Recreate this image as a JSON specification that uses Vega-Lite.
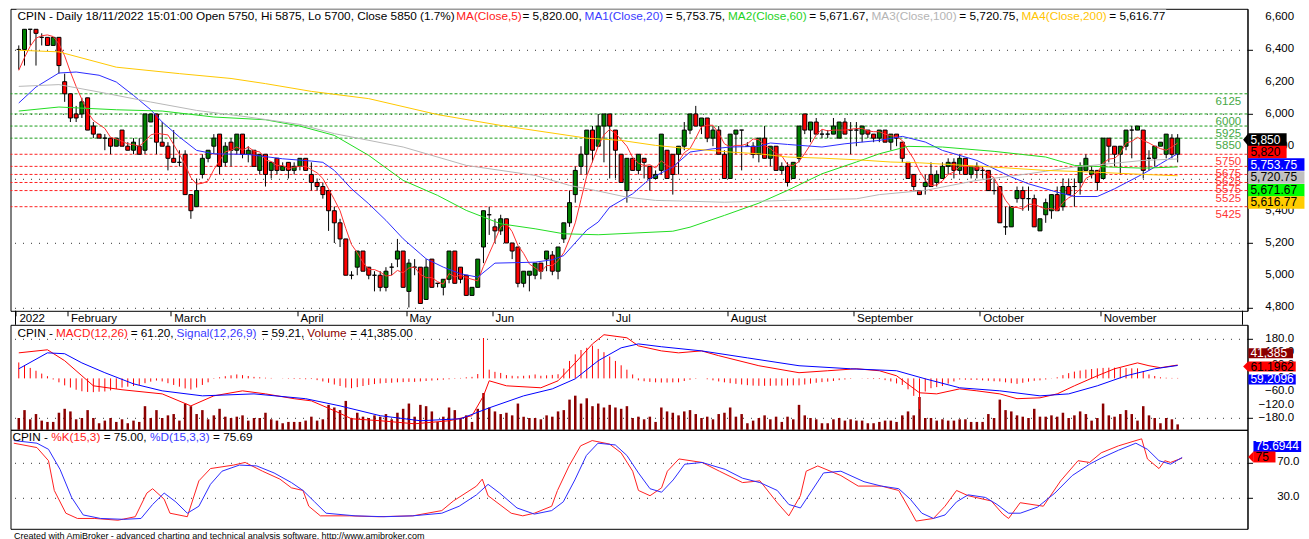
{
"$schema": "https://vega.github.io/schema/vega-lite/v6.json",
"background": "white",
"padding": {"left": 9.5, "top": 7.8, "right": 0, "bottom": 0},
"config": {
  "font": "Liberation Sans",
  "view": {"stroke": "#000", "strokeWidth": 1},
  "axis": {"labelFont": "Liberation Sans", "labelColor": "#000", "labelFontSize": 11.5, "domainColor": "#000", "tickColor": "#000", "titleFont": "Liberation Sans", "labelOverlap": false, "labelFlush": false}
},
"datasets": {
"candles": [
{"d":"2022-01-19","i":1,"o":6400,"h":6425,"l":6275,"c":6400,"ma5":6270,"v":90000,"hist":73},
{"d":"2022-01-20","i":2,"o":6400,"h":6525,"l":6300,"c":6525,"ma5":6350,"v":150000,"hist":60},
{"d":"2022-01-21","i":3,"o":6525,"h":6525,"l":6425,"c":6525,"ma5":6420,"v":80000,"hist":48},
{"d":"2022-01-24","i":4,"o":6525,"h":6525,"l":6300,"c":6500,"ma5":6470,"v":120000,"hist":35},
{"d":"2022-01-25","i":5,"o":6475,"h":6500,"l":6425,"c":6475,"ma5":6485,"v":70000,"hist":22},
{"d":"2022-01-26","i":6,"o":6475,"h":6475,"l":6425,"c":6425,"ma5":6490,"v":60000,"hist":10},
{"d":"2022-01-27","i":7,"o":6425,"h":6475,"l":6425,"c":6475,"ma5":6480,"v":60000,"hist":-5},
{"d":"2022-01-28","i":8,"o":6475,"h":6475,"l":6250,"c":6300,"ma5":6435,"v":130000,"hist":-18},
{"d":"2022-01-31","i":9,"o":6200,"h":6250,"l":6075,"c":6125,"ma5":6360,"v":160000,"hist":-32},
{"d":"2022-02-02","i":10,"o":6125,"h":6125,"l":5950,"c":5975,"ma5":6260,"v":140000,"hist":-42},
{"d":"2022-02-03","i":11,"o":6000,"h":6050,"l":5950,"c":5975,"ma5":6170,"v":80000,"hist":-52},
{"d":"2022-02-04","i":12,"o":6000,"h":6100,"l":5975,"c":6075,"ma5":6090,"v":90000,"hist":-59},
{"d":"2022-02-07","i":13,"o":6100,"h":6100,"l":5900,"c":5900,"ma5":6010,"v":150000,"hist":-62},
{"d":"2022-02-08","i":14,"o":5925,"h":5950,"l":5850,"c":5875,"ma5":5960,"v":90000,"hist":-63},
{"d":"2022-02-09","i":15,"o":5875,"h":5875,"l":5850,"c":5850,"ma5":5935,"v":50000,"hist":-61},
{"d":"2022-02-10","i":16,"o":5850,"h":5875,"l":5775,"c":5850,"ma5":5910,"v":70000,"hist":-60},
{"d":"2022-02-11","i":17,"o":5850,"h":5850,"l":5750,"c":5800,"ma5":5855,"v":90000,"hist":-55},
{"d":"2022-02-14","i":18,"o":5800,"h":5850,"l":5800,"c":5850,"ma5":5845,"v":60000,"hist":-48},
{"d":"2022-02-15","i":19,"o":5900,"h":5900,"l":5800,"c":5800,"ma5":5830,"v":80000,"hist":-42},
{"d":"2022-02-16","i":20,"o":5800,"h":5825,"l":5775,"c":5775,"ma5":5815,"v":50000,"hist":-38},
{"d":"2022-02-17","i":21,"o":5775,"h":5850,"l":5750,"c":5825,"ma5":5810,"v":70000,"hist":-35},
{"d":"2022-02-18","i":22,"o":5800,"h":5850,"l":5750,"c":5750,"ma5":5800,"v":60000,"hist":-30},
{"d":"2022-02-21","i":23,"o":5775,"h":6000,"l":5750,"c":6000,"ma5":5830,"v":180000,"hist":-22},
{"d":"2022-02-22","i":24,"o":5950,"h":6000,"l":5950,"c":6000,"ma5":5870,"v":90000,"hist":-15},
{"d":"2022-02-23","i":25,"o":6000,"h":6000,"l":5750,"c":5825,"ma5":5880,"v":150000,"hist":-10},
{"d":"2022-02-24","i":26,"o":5825,"h":5950,"l":5800,"c":5800,"ma5":5875,"v":90000,"hist":-14},
{"d":"2022-02-25","i":27,"o":5800,"h":5825,"l":5650,"c":5725,"ma5":5870,"v":110000,"hist":-22},
{"d":"2022-03-01","i":28,"o":5725,"h":5900,"l":5700,"c":5700,"ma5":5810,"v":120000,"hist":-30},
{"d":"2022-03-02","i":29,"o":5700,"h":5775,"l":5675,"c":5700,"ma5":5750,"v":70000,"hist":-38},
{"d":"2022-03-04","i":30,"o":5750,"h":5775,"l":5500,"c":5500,"ma5":5685,"v":200000,"hist":-46},
{"d":"2022-03-07","i":31,"o":5500,"h":5500,"l":5350,"c":5400,"ma5":5605,"v":180000,"hist":-51},
{"d":"2022-03-08","i":32,"o":5425,"h":5600,"l":5425,"c":5525,"ma5":5565,"v":120000,"hist":-42},
{"d":"2022-03-09","i":33,"o":5625,"h":5750,"l":5600,"c":5725,"ma5":5570,"v":150000,"hist":-30},
{"d":"2022-03-10","i":34,"o":5725,"h":5775,"l":5700,"c":5775,"ma5":5585,"v":80000,"hist":-18},
{"d":"2022-03-11","i":35,"o":5800,"h":5875,"l":5750,"c":5850,"ma5":5655,"v":110000,"hist":-2},
{"d":"2022-03-14","i":36,"o":5875,"h":5875,"l":5625,"c":5675,"ma5":5710,"v":160000,"hist":5},
{"d":"2022-03-15","i":37,"o":5700,"h":5825,"l":5675,"c":5800,"ma5":5765,"v":100000,"hist":10},
{"d":"2022-03-16","i":38,"o":5825,"h":5850,"l":5675,"c":5775,"ma5":5775,"v":90000,"hist":14},
{"d":"2022-03-17","i":39,"o":5775,"h":5875,"l":5750,"c":5875,"ma5":5795,"v":100000,"hist":18},
{"d":"2022-03-18","i":40,"o":5875,"h":5875,"l":5725,"c":5750,"ma5":5775,"v":110000,"hist":15},
{"d":"2022-03-21","i":41,"o":5750,"h":5800,"l":5700,"c":5775,"ma5":5795,"v":70000,"hist":11},
{"d":"2022-03-22","i":42,"o":5775,"h":5775,"l":5675,"c":5675,"ma5":5770,"v":90000,"hist":7},
{"d":"2022-03-23","i":43,"o":5650,"h":5750,"l":5625,"c":5750,"ma5":5765,"v":90000,"hist":5},
{"d":"2022-03-24","i":44,"o":5750,"h":5750,"l":5550,"c":5625,"ma5":5715,"v":130000,"hist":3},
{"d":"2022-03-25","i":45,"o":5650,"h":5700,"l":5600,"c":5700,"ma5":5705,"v":80000,"hist":2},
{"d":"2022-03-28","i":46,"o":5725,"h":5725,"l":5625,"c":5650,"ma5":5680,"v":70000,"hist":0},
{"d":"2022-03-29","i":47,"o":5650,"h":5700,"l":5650,"c":5675,"ma5":5680,"v":50000,"hist":-1},
{"d":"2022-03-30","i":48,"o":5700,"h":5700,"l":5600,"c":5650,"ma5":5660,"v":60000,"hist":-2},
{"d":"2022-03-31","i":49,"o":5650,"h":5700,"l":5625,"c":5675,"ma5":5670,"v":60000,"hist":-3},
{"d":"2022-04-01","i":50,"o":5675,"h":5725,"l":5650,"c":5725,"ma5":5675,"v":60000,"hist":-3},
{"d":"2022-04-04","i":51,"o":5725,"h":5725,"l":5650,"c":5650,"ma5":5675,"v":70000,"hist":-4},
{"d":"2022-04-05","i":52,"o":5625,"h":5700,"l":5525,"c":5575,"ma5":5655,"v":100000,"hist":-3},
{"d":"2022-04-06","i":53,"o":5575,"h":5600,"l":5525,"c":5550,"ma5":5635,"v":70000,"hist":-8},
{"d":"2022-04-07","i":54,"o":5550,"h":5575,"l":5475,"c":5500,"ma5":5600,"v":80000,"hist":-14},
{"d":"2022-04-08","i":55,"o":5525,"h":5525,"l":5275,"c":5400,"ma5":5535,"v":190000,"hist":-20},
{"d":"2022-04-11","i":56,"o":5400,"h":5425,"l":5200,"c":5325,"ma5":5470,"v":170000,"hist":-28},
{"d":"2022-04-12","i":57,"o":5325,"h":5350,"l":5175,"c":5225,"ma5":5400,"v":150000,"hist":-35},
{"d":"2022-04-13","i":58,"o":5225,"h":5225,"l":5000,"c":5000,"ma5":5290,"v":220000,"hist":-42},
{"d":"2022-04-14","i":59,"o":5000,"h":5025,"l":4975,"c":5000,"ma5":5190,"v":90000,"hist":-45},
{"d":"2022-04-18","i":60,"o":5050,"h":5150,"l":5000,"c":5150,"ma5":5140,"v":130000,"hist":-40},
{"d":"2022-04-19","i":61,"o":5150,"h":5150,"l":5025,"c":5025,"ma5":5080,"v":100000,"hist":-35},
{"d":"2022-04-20","i":62,"o":5050,"h":5050,"l":4975,"c":5000,"ma5":5035,"v":90000,"hist":-30},
{"d":"2022-04-21","i":63,"o":5000,"h":5025,"l":4900,"c":5000,"ma5":5035,"v":110000,"hist":-26},
{"d":"2022-04-22","i":64,"o":5000,"h":5025,"l":4900,"c":4925,"ma5":5020,"v":100000,"hist":-23},
{"d":"2022-04-25","i":65,"o":4925,"h":5050,"l":4900,"c":5025,"ma5":4995,"v":120000,"hist":-21},
{"d":"2022-04-26","i":66,"o":5050,"h":5075,"l":5000,"c":5050,"ma5":5000,"v":80000,"hist":-20},
{"d":"2022-04-27","i":67,"o":5100,"h":5225,"l":5050,"c":5150,"ma5":5030,"v":130000,"hist":-18},
{"d":"2022-04-28","i":68,"o":5150,"h":5150,"l":4925,"c":4925,"ma5":5015,"v":160000,"hist":-17},
{"d":"2022-05-09","i":69,"o":4900,"h":5100,"l":4800,"c":5075,"ma5":5045,"v":200000,"hist":-16},
{"d":"2022-05-10","i":70,"o":5050,"h":5100,"l":5000,"c":5050,"ma5":5050,"v":100000,"hist":-16},
{"d":"2022-05-11","i":71,"o":5050,"h":5050,"l":4825,"c":4825,"ma5":5005,"v":190000,"hist":-14},
{"d":"2022-05-12","i":72,"o":4850,"h":5100,"l":4850,"c":5050,"ma5":4985,"v":180000,"hist":-12},
{"d":"2022-05-13","i":73,"o":5100,"h":5100,"l":4925,"c":4925,"ma5":4985,"v":140000,"hist":-10},
{"d":"2022-05-17","i":74,"o":4950,"h":4950,"l":4925,"c":4950,"ma5":4960,"v":60000,"hist":-8},
{"d":"2022-05-18","i":75,"o":4925,"h":4975,"l":4875,"c":4975,"ma5":4945,"v":100000,"hist":-6},
{"d":"2022-05-19","i":76,"o":4975,"h":5150,"l":4950,"c":5150,"ma5":5010,"v":170000,"hist":-4},
{"d":"2022-05-20","i":77,"o":5150,"h":5150,"l":4950,"c":4950,"ma5":4990,"v":150000,"hist":-2},
{"d":"2022-05-23","i":78,"o":5050,"h":5050,"l":4950,"c":4975,"ma5":5000,"v":90000,"hist":2},
{"d":"2022-05-24","i":79,"o":5000,"h":5000,"l":4875,"c":4875,"ma5":4985,"v":110000,"hist":5},
{"d":"2022-05-25","i":80,"o":4875,"h":4925,"l":4875,"c":4925,"ma5":4975,"v":60000,"hist":7},
{"d":"2022-05-27","i":81,"o":4925,"h":5100,"l":4925,"c":5100,"ma5":4965,"v":160000,"hist":20},
{"d":"2022-05-30","i":82,"o":5175,"h":5400,"l":5075,"c":5400,"ma5":5055,"v":280000,"hist":185},
{"d":"2022-05-31","i":83,"o":5375,"h":5425,"l":5250,"c":5375,"ma5":5135,"v":170000,"hist":40},
{"d":"2022-06-02","i":84,"o":5300,"h":5350,"l":5200,"c":5275,"ma5":5215,"v":140000,"hist":30},
{"d":"2022-06-03","i":85,"o":5275,"h":5375,"l":5250,"c":5350,"ma5":5300,"v":120000,"hist":25},
{"d":"2022-06-06","i":86,"o":5350,"h":5350,"l":5200,"c":5200,"ma5":5320,"v":130000,"hist":15},
{"d":"2022-06-07","i":87,"o":5200,"h":5200,"l":5100,"c":5150,"ma5":5270,"v":110000,"hist":12},
{"d":"2022-06-08","i":88,"o":5175,"h":5175,"l":4925,"c":4950,"ma5":5185,"v":200000,"hist":10},
{"d":"2022-06-09","i":89,"o":4950,"h":5025,"l":4925,"c":5025,"ma5":5135,"v":100000,"hist":12},
{"d":"2022-06-10","i":90,"o":5000,"h":5025,"l":4900,"c":5025,"ma5":5070,"v":90000,"hist":14},
{"d":"2022-06-13","i":91,"o":5000,"h":5075,"l":4975,"c":5075,"ma5":5045,"v":90000,"hist":18},
{"d":"2022-06-14","i":92,"o":5075,"h":5075,"l":4975,"c":5025,"ma5":5020,"v":80000,"hist":12},
{"d":"2022-06-15","i":93,"o":5100,"h":5150,"l":5025,"c":5150,"ma5":5060,"v":110000,"hist":14},
{"d":"2022-06-16","i":94,"o":5125,"h":5150,"l":5000,"c":5025,"ma5":5060,"v":100000,"hist":16},
{"d":"2022-06-17","i":95,"o":5025,"h":5175,"l":4975,"c":5175,"ma5":5090,"v":140000,"hist":19},
{"d":"2022-06-20","i":96,"o":5225,"h":5325,"l":5200,"c":5325,"ma5":5140,"v":150000,"hist":45},
{"d":"2022-06-21","i":97,"o":5325,"h":5525,"l":5300,"c":5450,"ma5":5225,"v":230000,"hist":80},
{"d":"2022-06-22","i":98,"o":5500,"h":5675,"l":5450,"c":5650,"ma5":5325,"v":260000,"hist":110},
{"d":"2022-06-23","i":99,"o":5675,"h":5800,"l":5625,"c":5750,"ma5":5470,"v":200000,"hist":130},
{"d":"2022-06-24","i":100,"o":5750,"h":5900,"l":5625,"c":5900,"ma5":5615,"v":240000,"hist":140},
{"d":"2022-06-27","i":101,"o":5900,"h":5925,"l":5700,"c":5775,"ma5":5705,"v":180000,"hist":150},
{"d":"2022-06-28","i":102,"o":5800,"h":6000,"l":5800,"c":5925,"ma5":5800,"v":200000,"hist":135},
{"d":"2022-06-29","i":103,"o":5925,"h":6000,"l":5700,"c":6000,"ma5":5870,"v":170000,"hist":120},
{"d":"2022-06-30","i":104,"o":6000,"h":6000,"l":5600,"c":5925,"ma5":5905,"v":190000,"hist":100},
{"d":"2022-07-01","i":105,"o":5900,"h":5900,"l":5600,"c":5775,"ma5":5880,"v":170000,"hist":80},
{"d":"2022-07-04","i":106,"o":5750,"h":5750,"l":5575,"c":5575,"ma5":5840,"v":160000,"hist":60},
{"d":"2022-07-05","i":107,"o":5525,"h":5725,"l":5450,"c":5725,"ma5":5800,"v":180000,"hist":40},
{"d":"2022-07-06","i":108,"o":5725,"h":5725,"l":5650,"c":5650,"ma5":5730,"v":90000,"hist":18},
{"d":"2022-07-07","i":109,"o":5650,"h":5750,"l":5625,"c":5750,"ma5":5695,"v":100000,"hist":-9},
{"d":"2022-07-08","i":110,"o":5725,"h":5725,"l":5600,"c":5700,"ma5":5680,"v":80000,"hist":-13},
{"d":"2022-07-12","i":111,"o":5675,"h":5675,"l":5525,"c":5600,"ma5":5685,"v":100000,"hist":-16},
{"d":"2022-07-13","i":112,"o":5600,"h":5650,"l":5600,"c":5625,"ma5":5665,"v":60000,"hist":-18},
{"d":"2022-07-14","i":113,"o":5650,"h":5875,"l":5625,"c":5875,"ma5":5710,"v":170000,"hist":-19},
{"d":"2022-07-15","i":114,"o":5775,"h":5775,"l":5600,"c":5600,"ma5":5680,"v":140000,"hist":-19},
{"d":"2022-07-18","i":115,"o":5750,"h":5750,"l":5500,"c":5625,"ma5":5665,"v":130000,"hist":-18},
{"d":"2022-07-19","i":116,"o":5750,"h":5800,"l":5625,"c":5800,"ma5":5705,"v":110000,"hist":-18},
{"d":"2022-07-20","i":117,"o":5800,"h":5950,"l":5775,"c":5900,"ma5":5760,"v":140000,"hist":-12},
{"d":"2022-07-21","i":118,"o":5900,"h":6000,"l":5875,"c":6000,"ma5":5785,"v":150000,"hist":-6},
{"d":"2022-07-22","i":119,"o":6000,"h":6050,"l":5925,"c":5925,"ma5":5850,"v":120000,"hist":-2},
{"d":"2022-07-25","i":120,"o":5925,"h":5975,"l":5875,"c":5975,"ma5":5920,"v":90000,"hist":0},
{"d":"2022-07-26","i":121,"o":5975,"h":5975,"l":5825,"c":5850,"ma5":5930,"v":100000,"hist":-4},
{"d":"2022-07-27","i":122,"o":5850,"h":5925,"l":5800,"c":5900,"ma5":5930,"v":80000,"hist":-9},
{"d":"2022-07-28","i":123,"o":5900,"h":5925,"l":5750,"c":5750,"ma5":5880,"v":120000,"hist":-14},
{"d":"2022-07-29","i":124,"o":5750,"h":5775,"l":5600,"c":5600,"ma5":5815,"v":130000,"hist":-18},
{"d":"2022-08-01","i":125,"o":5600,"h":5875,"l":5600,"c":5875,"ma5":5795,"v":170000,"hist":-22},
{"d":"2022-08-02","i":126,"o":5875,"h":5900,"l":5750,"c":5900,"ma5":5805,"v":100000,"hist":-25},
{"d":"2022-08-03","i":127,"o":5900,"h":5900,"l":5650,"c":5900,"ma5":5805,"v":120000,"hist":-28},
{"d":"2022-08-04","i":128,"o":5800,"h":5825,"l":5800,"c":5800,"ma5":5815,"v":50000,"hist":-31},
{"d":"2022-08-05","i":129,"o":5800,"h":5825,"l":5725,"c":5750,"ma5":5845,"v":70000,"hist":-33},
{"d":"2022-08-08","i":130,"o":5750,"h":5850,"l":5700,"c":5850,"ma5":5840,"v":90000,"hist":-34},
{"d":"2022-08-09","i":131,"o":5850,"h":5925,"l":5725,"c":5725,"ma5":5805,"v":110000,"hist":-34},
{"d":"2022-08-10","i":132,"o":5725,"h":5800,"l":5675,"c":5800,"ma5":5785,"v":80000,"hist":-34},
{"d":"2022-08-11","i":133,"o":5800,"h":5800,"l":5650,"c":5650,"ma5":5755,"v":100000,"hist":-33},
{"d":"2022-08-12","i":134,"o":5650,"h":5700,"l":5625,"c":5675,"ma5":5740,"v":60000,"hist":-33},
{"d":"2022-08-15","i":135,"o":5675,"h":5700,"l":5550,"c":5575,"ma5":5685,"v":100000,"hist":-33},
{"d":"2022-08-16","i":136,"o":5600,"h":5700,"l":5600,"c":5700,"ma5":5680,"v":80000,"hist":-32},
{"d":"2022-08-18","i":137,"o":5725,"h":5925,"l":5700,"c":5925,"ma5":5705,"v":190000,"hist":-32},
{"d":"2022-08-19","i":138,"o":6000,"h":6000,"l":5875,"c":5900,"ma5":5755,"v":110000,"hist":-28},
{"d":"2022-08-22","i":139,"o":5900,"h":5950,"l":5825,"c":5950,"ma5":5810,"v":90000,"hist":-24},
{"d":"2022-08-23","i":140,"o":5950,"h":5975,"l":5875,"c":5875,"ma5":5870,"v":80000,"hist":-20},
{"d":"2022-08-24","i":141,"o":5875,"h":5900,"l":5850,"c":5875,"ma5":5905,"v":50000,"hist":-17},
{"d":"2022-08-25","i":142,"o":5875,"h":5900,"l":5850,"c":5875,"ma5":5895,"v":50000,"hist":-15},
{"d":"2022-08-26","i":143,"o":5875,"h":5975,"l":5875,"c":5925,"ma5":5900,"v":80000,"hist":-12},
{"d":"2022-08-29","i":144,"o":5850,"h":5950,"l":5850,"c":5950,"ma5":5900,"v":90000,"hist":-8},
{"d":"2022-08-30","i":145,"o":5950,"h":5975,"l":5875,"c":5875,"ma5":5900,"v":70000,"hist":-5},
{"d":"2022-08-31","i":146,"o":5900,"h":5950,"l":5750,"c":5900,"ma5":5905,"v":80000,"hist":-2},
{"d":"2022-09-01","i":147,"o":5900,"h":5950,"l":5800,"c":5900,"ma5":5910,"v":70000,"hist":0},
{"d":"2022-09-02","i":148,"o":5875,"h":5925,"l":5825,"c":5925,"ma5":5910,"v":70000,"hist":-1},
{"d":"2022-09-05","i":149,"o":5900,"h":5900,"l":5850,"c":5875,"ma5":5895,"v":50000,"hist":-2},
{"d":"2022-09-06","i":150,"o":5875,"h":5875,"l":5825,"c":5850,"ma5":5890,"v":50000,"hist":-3},
{"d":"2022-09-07","i":151,"o":5850,"h":5900,"l":5825,"c":5900,"ma5":5890,"v":60000,"hist":-3},
{"d":"2022-09-08","i":152,"o":5900,"h":5900,"l":5825,"c":5825,"ma5":5875,"v":70000,"hist":-8},
{"d":"2022-09-09","i":153,"o":5825,"h":5875,"l":5775,"c":5875,"ma5":5865,"v":70000,"hist":-14},
{"d":"2022-09-12","i":154,"o":5875,"h":5875,"l":5800,"c":5850,"ma5":5860,"v":60000,"hist":-23},
{"d":"2022-09-13","i":155,"o":5825,"h":5825,"l":5700,"c":5725,"ma5":5835,"v":110000,"hist":-30},
{"d":"2022-09-14","i":156,"o":5700,"h":5700,"l":5600,"c":5600,"ma5":5775,"v":140000,"hist":-50},
{"d":"2022-09-15","i":157,"o":5625,"h":5625,"l":5525,"c":5550,"ma5":5720,"v":110000,"hist":-80},
{"d":"2022-09-16","i":158,"o":5525,"h":5525,"l":5500,"c":5500,"ma5":5645,"v":250000,"hist":-140},
{"d":"2022-09-19","i":159,"o":5550,"h":5625,"l":5500,"c":5575,"ma5":5590,"v":90000,"hist":-60},
{"d":"2022-09-20","i":160,"o":5625,"h":5700,"l":5550,"c":5550,"ma5":5555,"v":90000,"hist":-45},
{"d":"2022-09-21","i":161,"o":5575,"h":5650,"l":5550,"c":5625,"ma5":5560,"v":70000,"hist":-40},
{"d":"2022-09-22","i":162,"o":5600,"h":5700,"l":5600,"c":5675,"ma5":5585,"v":80000,"hist":-35},
{"d":"2022-09-23","i":163,"o":5675,"h":5725,"l":5625,"c":5700,"ma5":5625,"v":70000,"hist":-24},
{"d":"2022-09-26","i":164,"o":5700,"h":5725,"l":5600,"c":5650,"ma5":5640,"v":70000,"hist":-14},
{"d":"2022-09-27","i":165,"o":5650,"h":5750,"l":5625,"c":5725,"ma5":5675,"v":80000,"hist":-5},
{"d":"2022-09-28","i":166,"o":5725,"h":5725,"l":5625,"c":5625,"ma5":5675,"v":80000,"hist":-6},
{"d":"2022-09-29","i":167,"o":5625,"h":5675,"l":5600,"c":5675,"ma5":5675,"v":60000,"hist":-7},
{"d":"2022-09-30","i":168,"o":5675,"h":5700,"l":5600,"c":5650,"ma5":5665,"v":60000,"hist":-7},
{"d":"2022-10-03","i":169,"o":5650,"h":5675,"l":5600,"c":5650,"ma5":5665,"v":60000,"hist":-9},
{"d":"2022-10-04","i":170,"o":5650,"h":5650,"l":5525,"c":5525,"ma5":5625,"v":120000,"hist":-11},
{"d":"2022-10-05","i":171,"o":5525,"h":5600,"l":5500,"c":5525,"ma5":5605,"v":90000,"hist":-13},
{"d":"2022-10-06","i":172,"o":5550,"h":5550,"l":5325,"c":5325,"ma5":5535,"v":230000,"hist":-14},
{"d":"2022-10-07","i":173,"o":5300,"h":5425,"l":5250,"c":5300,"ma5":5465,"v":150000,"hist":-18},
{"d":"2022-10-10","i":174,"o":5300,"h":5425,"l":5300,"c":5425,"ma5":5420,"v":140000,"hist":-22},
{"d":"2022-10-11","i":175,"o":5475,"h":5550,"l":5450,"c":5525,"ma5":5420,"v":110000,"hist":-25},
{"d":"2022-10-12","i":176,"o":5525,"h":5550,"l":5400,"c":5475,"ma5":5410,"v":100000,"hist":-20},
{"d":"2022-10-13","i":177,"o":5475,"h":5550,"l":5400,"c":5475,"ma5":5440,"v":90000,"hist":-15},
{"d":"2022-10-14","i":178,"o":5475,"h":5500,"l":5300,"c":5300,"ma5":5440,"v":160000,"hist":-11},
{"d":"2022-10-17","i":179,"o":5275,"h":5350,"l":5275,"c":5350,"ma5":5425,"v":100000,"hist":-9},
{"d":"2022-10-18","i":180,"o":5375,"h":5475,"l":5325,"c":5450,"ma5":5410,"v":100000,"hist":-5},
{"d":"2022-10-19","i":181,"o":5400,"h":5500,"l":5350,"c":5500,"ma5":5415,"v":110000,"hist":-1},
{"d":"2022-10-20","i":182,"o":5500,"h":5550,"l":5400,"c":5400,"ma5":5400,"v":100000,"hist":5},
{"d":"2022-10-21","i":183,"o":5425,"h":5600,"l":5400,"c":5550,"ma5":5450,"v":130000,"hist":15},
{"d":"2022-10-24","i":184,"o":5550,"h":5600,"l":5500,"c":5500,"ma5":5480,"v":90000,"hist":24},
{"d":"2022-10-25","i":185,"o":5550,"h":5600,"l":5425,"c":5550,"ma5":5500,"v":110000,"hist":31},
{"d":"2022-10-26","i":186,"o":5575,"h":5700,"l":5500,"c":5675,"ma5":5535,"v":140000,"hist":36},
{"d":"2022-10-27","i":187,"o":5650,"h":5750,"l":5650,"c":5725,"ma5":5600,"v":120000,"hist":40},
{"d":"2022-10-28","i":188,"o":5625,"h":5675,"l":5600,"c":5650,"ma5":5620,"v":70000,"hist":43},
{"d":"2022-10-31","i":189,"o":5650,"h":5650,"l":5525,"c":5575,"ma5":5635,"v":90000,"hist":46},
{"d":"2022-11-01","i":190,"o":5600,"h":5850,"l":5600,"c":5850,"ma5":5695,"v":200000,"hist":48},
{"d":"2022-11-02","i":191,"o":5850,"h":5850,"l":5700,"c":5800,"ma5":5720,"v":110000,"hist":49},
{"d":"2022-11-03","i":192,"o":5800,"h":5800,"l":5675,"c":5750,"ma5":5725,"v":100000,"hist":49},
{"d":"2022-11-04","i":193,"o":5750,"h":5800,"l":5625,"c":5800,"ma5":5755,"v":120000,"hist":48},
{"d":"2022-11-07","i":194,"o":5800,"h":5900,"l":5775,"c":5900,"ma5":5820,"v":150000,"hist":47},
{"d":"2022-11-08","i":195,"o":5900,"h":5925,"l":5725,"c":5900,"ma5":5830,"v":120000,"hist":46},
{"d":"2022-11-09","i":196,"o":5900,"h":5925,"l":5900,"c":5925,"ma5":5855,"v":70000,"hist":46},
{"d":"2022-11-10","i":197,"o":5900,"h":5900,"l":5600,"c":5650,"ma5":5835,"v":180000,"hist":30},
{"d":"2022-11-11","i":198,"o":5725,"h":5775,"l":5650,"c":5725,"ma5":5820,"v":110000,"hist":18},
{"d":"2022-11-14","i":199,"o":5725,"h":5800,"l":5675,"c":5800,"ma5":5800,"v":90000,"hist":11},
{"d":"2022-11-15","i":200,"o":5800,"h":5825,"l":5800,"c":5825,"ma5":5785,"v":50000,"hist":5},
{"d":"2022-11-16","i":201,"o":5750,"h":5875,"l":5725,"c":5875,"ma5":5775,"v":90000,"hist":3},
{"d":"2022-11-17","i":202,"o":5850,"h":5875,"l":5725,"c":5750,"ma5":5795,"v":80000,"hist":2},
{"d":"2022-11-18","i":203,"o":5750,"h":5875,"l":5700,"c":5850,"ma5":5820,"v":41385,"hist":2}
],
"mas": [
{"s":"MA1","i":1,"v":6068},{"s":"MA1","i":4,"v":6167},{"s":"MA1","i":8,"v":6254},{"s":"MA1","i":11,"v":6260},{"s":"MA1","i":15,"v":6240},{"s":"MA1","i":18,"v":6198},{"s":"MA1","i":21,"v":6115},{"s":"MA1","i":24,"v":6026},{"s":"MA1","i":26,"v":5950},{"s":"MA1","i":29,"v":5857},{"s":"MA1","i":32,"v":5774},{"s":"MA1","i":35,"v":5753},{"s":"MA1","i":41,"v":5749},{"s":"MA1","i":47,"v":5722},{"s":"MA1","i":52,"v":5708},{"s":"MA1","i":54,"v":5700},{"s":"MA1","i":56,"v":5650},{"s":"MA1","i":59,"v":5536},{"s":"MA1","i":62,"v":5443},{"s":"MA1","i":65,"v":5340},{"s":"MA1","i":68,"v":5226},{"s":"MA1","i":71,"v":5133},{"s":"MA1","i":72,"v":5102},{"s":"MA1","i":75,"v":5050},{"s":"MA1","i":78,"v":5009},{"s":"MA1","i":81,"v":4988},{"s":"MA1","i":84,"v":5075},{"s":"MA1","i":91,"v":5081},{"s":"MA1","i":94,"v":5096},{"s":"MA1","i":96,"v":5122},{"s":"MA1","i":100,"v":5280},{"s":"MA1","i":102,"v":5330},{"s":"MA1","i":104,"v":5422},{"s":"MA1","i":108,"v":5505},{"s":"MA1","i":111,"v":5598},{"s":"MA1","i":115,"v":5671},{"s":"MA1","i":118,"v":5764},{"s":"MA1","i":122,"v":5784},{"s":"MA1","i":125,"v":5795},{"s":"MA1","i":130,"v":5799},{"s":"MA1","i":132,"v":5820},{"s":"MA1","i":135,"v":5811},{"s":"MA1","i":141,"v":5795},{"s":"MA1","i":145,"v":5815},{"s":"MA1","i":151,"v":5836},{"s":"MA1","i":155,"v":5861},{"s":"MA1","i":159,"v":5826},{"s":"MA1","i":162,"v":5774},{"s":"MA1","i":168,"v":5712},{"s":"MA1","i":174,"v":5609},{"s":"MA1","i":177,"v":5567},{"s":"MA1","i":182,"v":5515},{"s":"MA1","i":185,"v":5488},{"s":"MA1","i":189,"v":5488},{"s":"MA1","i":192,"v":5536},{"s":"MA1","i":197,"v":5629},{"s":"MA1","i":200,"v":5691},{"s":"MA1","i":203,"v":5753.75},
{"s":"MA2","i":1,"v":6018},{"s":"MA2","i":8,"v":6043},{"s":"MA2","i":18,"v":6026},{"s":"MA2","i":26,"v":6018},{"s":"MA2","i":35,"v":5981},{"s":"MA2","i":44,"v":5964},{"s":"MA2","i":50,"v":5925},{"s":"MA2","i":56,"v":5867},{"s":"MA2","i":62,"v":5743},{"s":"MA2","i":68,"v":5588},{"s":"MA2","i":74,"v":5495},{"s":"MA2","i":79,"v":5402},{"s":"MA2","i":85,"v":5319},{"s":"MA2","i":91,"v":5288},{"s":"MA2","i":96,"v":5257},{"s":"MA2","i":102,"v":5251},{"s":"MA2","i":115,"v":5273},{"s":"MA2","i":118,"v":5298},{"s":"MA2","i":124,"v":5371},{"s":"MA2","i":130,"v":5447},{"s":"MA2","i":135,"v":5526},{"s":"MA2","i":141,"v":5629},{"s":"MA2","i":147,"v":5702},{"s":"MA2","i":151,"v":5753},{"s":"MA2","i":156,"v":5799},{"s":"MA2","i":162,"v":5795},{"s":"MA2","i":171,"v":5768},{"s":"MA2","i":180,"v":5733},{"s":"MA2","i":185,"v":5681},{"s":"MA2","i":191,"v":5671},{"s":"MA2","i":197,"v":5664},{"s":"MA2","i":203,"v":5671.67},
{"s":"MA3","i":1,"v":6171},{"s":"MA3","i":8,"v":6182},{"s":"MA3","i":15,"v":6136},{"s":"MA3","i":24,"v":6074},{"s":"MA3","i":32,"v":6022},{"s":"MA3","i":41,"v":5981},{"s":"MA3","i":50,"v":5935},{"s":"MA3","i":56,"v":5878},{"s":"MA3","i":68,"v":5795},{"s":"MA3","i":79,"v":5681},{"s":"MA3","i":91,"v":5619},{"s":"MA3","i":97,"v":5557},{"s":"MA3","i":102,"v":5522},{"s":"MA3","i":107,"v":5484},{"s":"MA3","i":112,"v":5464},{"s":"MA3","i":124,"v":5453},{"s":"MA3","i":135,"v":5464},{"s":"MA3","i":147,"v":5474},{"s":"MA3","i":151,"v":5500},{"s":"MA3","i":159,"v":5526},{"s":"MA3","i":168,"v":5588},{"s":"MA3","i":177,"v":5629},{"s":"MA3","i":185,"v":5671},{"s":"MA3","i":191,"v":5691},{"s":"MA3","i":197,"v":5712},{"s":"MA3","i":203,"v":5720.75},
{"s":"MA4","i":1,"v":6395},{"s":"MA4","i":8,"v":6385},{"s":"MA4","i":18,"v":6290},{"s":"MA4","i":29,"v":6250},{"s":"MA4","i":38,"v":6220},{"s":"MA4","i":44,"v":6188},{"s":"MA4","i":52,"v":6140},{"s":"MA4","i":62,"v":6095},{"s":"MA4","i":74,"v":5996},{"s":"MA4","i":85,"v":5929},{"s":"MA4","i":100,"v":5850},{"s":"MA4","i":106,"v":5836},{"s":"MA4","i":112,"v":5805},{"s":"MA4","i":118,"v":5784},{"s":"MA4","i":125,"v":5764},{"s":"MA4","i":130,"v":5753},{"s":"MA4","i":135,"v":5733},{"s":"MA4","i":141,"v":5726},{"s":"MA4","i":147,"v":5716},{"s":"MA4","i":153,"v":5702},{"s":"MA4","i":158,"v":5697},{"s":"MA4","i":168,"v":5677},{"s":"MA4","i":180,"v":5650},{"s":"MA4","i":188,"v":5640},{"s":"MA4","i":197,"v":5625},{"s":"MA4","i":203,"v":5616.77}
],
"levels": [
{"v":6125,"kind":"r"},{"v":6000,"kind":"r"},{"v":5925,"kind":"r"},{"v":5850,"kind":"r"},
{"v":5750,"kind":"s"},{"v":5675,"kind":"s"},{"v":5625,"kind":"s"},{"v":5575,"kind":"s"},{"v":5525,"kind":"s"},{"v":5425,"kind":"s"}
],
"yticks": [
{"p":"price","t":4800},{"p":"price","t":5000},{"p":"price","t":5200},{"p":"price","t":5400},{"p":"price","t":5600},{"p":"price","t":5800},{"p":"price","t":6000},{"p":"price","t":6200},{"p":"price","t":6400},{"p":"price","t":6600},
{"p":"macd","t":-180},{"p":"macd","t":-120},{"p":"macd","t":-60},{"p":"macd","t":0},{"p":"macd","t":60},{"p":"macd","t":120},{"p":"macd","t":180},
{"p":"stoch","t":30},{"p":"stoch","t":70}
],
"last": [{"c":5850,"ma5":5820,"ma20":5753.75,"ma60":5671.67,"ma100":5720.75,"ma200":5616.77,"macd":61.1962,"sig":59.2096,"vol":41385,"k":75,"d":75.6944}],
"macd": [
{"s":"macd","i":1,"v":117},{"s":"macd","i":6,"v":131},{"s":"macd","i":9,"v":81},{"s":"macd","i":12,"v":12},{"s":"macd","i":14,"v":-34},{"s":"macd","i":19,"v":-52},{"s":"macd","i":26,"v":-71},{"s":"macd","i":31,"v":-126},{"s":"macd","i":35,"v":-80},{"s":"macd","i":40,"v":-57},{"s":"macd","i":44,"v":-71},{"s":"macd","i":49,"v":-93},{"s":"macd","i":52,"v":-103},{"s":"macd","i":56,"v":-148},{"s":"macd","i":59,"v":-185},{"s":"macd","i":64,"v":-194},{"s":"macd","i":70,"v":-208},{"s":"macd","i":76,"v":-194},{"s":"macd","i":80,"v":-171},{"s":"macd","i":82,"v":-80},{"s":"macd","i":83,"v":-11},{"s":"macd","i":86,"v":-34},{"s":"macd","i":92,"v":-43},{"s":"macd","i":95,"v":-11},{"s":"macd","i":98,"v":71},{"s":"macd","i":101,"v":158},{"s":"macd","i":103,"v":200},{"s":"macd","i":107,"v":186},{"s":"macd","i":109,"v":149},{"s":"macd","i":113,"v":126},{"s":"macd","i":116,"v":117},{"s":"macd","i":120,"v":126},{"s":"macd","i":123,"v":104},{"s":"macd","i":130,"v":58},{"s":"macd","i":137,"v":26},{"s":"macd","i":142,"v":35},{"s":"macd","i":147,"v":44},{"s":"macd","i":151,"v":35},{"s":"macd","i":154,"v":12},{"s":"macd","i":158,"v":-66},{"s":"macd","i":161,"v":-71},{"s":"macd","i":165,"v":-48},{"s":"macd","i":168,"v":-57},{"s":"macd","i":172,"v":-71},{"s":"macd","i":175,"v":-93},{"s":"macd","i":179,"v":-89},{"s":"macd","i":182,"v":-71},{"s":"macd","i":185,"v":-34},{"s":"macd","i":189,"v":12},{"s":"macd","i":192,"v":44},{"s":"macd","i":196,"v":71},{"s":"macd","i":198,"v":58},{"s":"macd","i":200,"v":49},{"s":"macd","i":203,"v":61.2},
{"s":"sig","i":1,"v":44},{"s":"sig","i":6,"v":117},{"s":"sig","i":9,"v":113},{"s":"sig","i":12,"v":71},{"s":"sig","i":16,"v":26},{"s":"sig","i":21,"v":-25},{"s":"sig","i":26,"v":-57},{"s":"sig","i":33,"v":-80},{"s":"sig","i":42,"v":-71},{"s":"sig","i":51,"v":-93},{"s":"sig","i":57,"v":-126},{"s":"sig","i":64,"v":-171},{"s":"sig","i":71,"v":-194},{"s":"sig","i":78,"v":-185},{"s":"sig","i":83,"v":-135},{"s":"sig","i":89,"v":-80},{"s":"sig","i":94,"v":-48},{"s":"sig","i":98,"v":-2},{"s":"sig","i":102,"v":81},{"s":"sig","i":106,"v":140},{"s":"sig","i":109,"v":158},{"s":"sig","i":113,"v":145},{"s":"sig","i":120,"v":126},{"s":"sig","i":128,"v":94},{"s":"sig","i":137,"v":58},{"s":"sig","i":146,"v":44},{"s":"sig","i":154,"v":35},{"s":"sig","i":159,"v":-2},{"s":"sig","i":165,"v":-43},{"s":"sig","i":172,"v":-57},{"s":"sig","i":179,"v":-80},{"s":"sig","i":184,"v":-71},{"s":"sig","i":189,"v":-34},{"s":"sig","i":194,"v":12},{"s":"sig","i":199,"v":44},{"s":"sig","i":203,"v":59.2}
],
"stoch": [
{"s":"k","i":1,"v":92},{"s":"k","i":5,"v":87},{"s":"k","i":7,"v":72},{"s":"k","i":8,"v":38},{"s":"k","i":10,"v":12},{"s":"k","i":12,"v":6},{"s":"k","i":15,"v":6},{"s":"k","i":19,"v":4},{"s":"k","i":22,"v":8},{"s":"k","i":24,"v":35},{"s":"k","i":25,"v":40},{"s":"k","i":27,"v":28},{"s":"k","i":28,"v":12},{"s":"k","i":31,"v":8},{"s":"k","i":33,"v":49},{"s":"k","i":35,"v":63},{"s":"k","i":39,"v":67},{"s":"k","i":41,"v":70},{"s":"k","i":44,"v":60},{"s":"k","i":47,"v":51},{"s":"k","i":49,"v":41},{"s":"k","i":51,"v":38},{"s":"k","i":52,"v":20},{"s":"k","i":54,"v":9},{"s":"k","i":59,"v":9},{"s":"k","i":64,"v":8},{"s":"k","i":70,"v":9},{"s":"k","i":75,"v":15},{"s":"k","i":77,"v":26},{"s":"k","i":81,"v":43},{"s":"k","i":82,"v":51},{"s":"k","i":83,"v":32},{"s":"k","i":87,"v":12},{"s":"k","i":89,"v":9},{"s":"k","i":91,"v":12},{"s":"k","i":94,"v":20},{"s":"k","i":95,"v":38},{"s":"k","i":97,"v":66},{"s":"k","i":99,"v":89},{"s":"k","i":101,"v":95},{"s":"k","i":104,"v":91},{"s":"k","i":106,"v":81},{"s":"k","i":108,"v":60},{"s":"k","i":109,"v":38},{"s":"k","i":111,"v":32},{"s":"k","i":113,"v":41},{"s":"k","i":114,"v":60},{"s":"k","i":116,"v":74},{"s":"k","i":120,"v":70},{"s":"k","i":123,"v":60},{"s":"k","i":127,"v":47},{"s":"k","i":130,"v":49},{"s":"k","i":133,"v":24},{"s":"k","i":135,"v":9},{"s":"k","i":137,"v":32},{"s":"k","i":138,"v":60},{"s":"k","i":140,"v":66},{"s":"k","i":144,"v":55},{"s":"k","i":147,"v":43},{"s":"k","i":151,"v":43},{"s":"k","i":154,"v":38},{"s":"k","i":156,"v":15},{"s":"k","i":157,"v":3},{"s":"k","i":160,"v":6},{"s":"k","i":162,"v":20},{"s":"k","i":164,"v":38},{"s":"k","i":166,"v":32},{"s":"k","i":170,"v":26},{"s":"k","i":172,"v":11},{"s":"k","i":173,"v":6},{"s":"k","i":175,"v":24},{"s":"k","i":179,"v":20},{"s":"k","i":182,"v":49},{"s":"k","i":185,"v":72},{"s":"k","i":187,"v":70},{"s":"k","i":189,"v":81},{"s":"k","i":192,"v":89},{"s":"k","i":196,"v":97},{"s":"k","i":197,"v":74},{"s":"k","i":199,"v":63},{"s":"k","i":200,"v":72},{"s":"k","i":201,"v":70},{"s":"k","i":203,"v":75},
{"s":"d","i":1,"v":95},{"s":"d","i":5,"v":92},{"s":"d","i":7,"v":85},{"s":"d","i":9,"v":62},{"s":"d","i":11,"v":30},{"s":"d","i":13,"v":10},{"s":"d","i":16,"v":6},{"s":"d","i":20,"v":5},{"s":"d","i":23,"v":6},{"s":"d","i":25,"v":22},{"s":"d","i":27,"v":35},{"s":"d","i":29,"v":25},{"s":"d","i":31,"v":12},{"s":"d","i":33,"v":20},{"s":"d","i":35,"v":45},{"s":"d","i":37,"v":60},{"s":"d","i":40,"v":67},{"s":"d","i":43,"v":66},{"s":"d","i":46,"v":58},{"s":"d","i":49,"v":47},{"s":"d","i":51,"v":38},{"s":"d","i":53,"v":25},{"s":"d","i":55,"v":12},{"s":"d","i":60,"v":9},{"s":"d","i":65,"v":8},{"s":"d","i":70,"v":9},{"s":"d","i":75,"v":12},{"s":"d","i":78,"v":20},{"s":"d","i":81,"v":33},{"s":"d","i":83,"v":45},{"s":"d","i":85,"v":35},{"s":"d","i":88,"v":18},{"s":"d","i":91,"v":11},{"s":"d","i":94,"v":15},{"s":"d","i":96,"v":25},{"s":"d","i":98,"v":50},{"s":"d","i":100,"v":78},{"s":"d","i":102,"v":92},{"s":"d","i":105,"v":90},{"s":"d","i":107,"v":78},{"s":"d","i":109,"v":58},{"s":"d","i":111,"v":40},{"s":"d","i":113,"v":36},{"s":"d","i":115,"v":50},{"s":"d","i":117,"v":68},{"s":"d","i":120,"v":70},{"s":"d","i":124,"v":62},{"s":"d","i":127,"v":52},{"s":"d","i":130,"v":47},{"s":"d","i":133,"v":38},{"s":"d","i":135,"v":22},{"s":"d","i":137,"v":18},{"s":"d","i":139,"v":38},{"s":"d","i":141,"v":58},{"s":"d","i":144,"v":60},{"s":"d","i":148,"v":48},{"s":"d","i":151,"v":43},{"s":"d","i":154,"v":40},{"s":"d","i":156,"v":28},{"s":"d","i":158,"v":12},{"s":"d","i":160,"v":6},{"s":"d","i":162,"v":10},{"s":"d","i":164,"v":25},{"s":"d","i":166,"v":33},{"s":"d","i":169,"v":30},{"s":"d","i":171,"v":22},{"s":"d","i":173,"v":12},{"s":"d","i":175,"v":12},{"s":"d","i":178,"v":19},{"s":"d","i":181,"v":35},{"s":"d","i":184,"v":55},{"s":"d","i":187,"v":68},{"s":"d","i":189,"v":75},{"s":"d","i":192,"v":84},{"s":"d","i":195,"v":92},{"s":"d","i":197,"v":85},{"s":"d","i":199,"v":72},{"s":"d","i":201,"v":68},{"s":"d","i":203,"v":75.69}
]
},
"spacing": 14,
"bounds": "flush",
"vconcat": [
{
 "width": 1237, "height": 302,
 "layer": [
  {"data":{"name":"levels"},"transform":[{"filter":"datum.kind=='r'"}],"mark":{"type":"rule","color":"#1a9e1a","strokeDash":[3,2],"strokeWidth":1},
   "encoding":{"y":{"field":"v","type":"quantitative","scale":{"domain":[4779.5,6652],"nice":false,"zero":false}}}},
  {"data":{"name":"levels"},"transform":[{"filter":"datum.kind=='s'"}],"mark":{"type":"rule","color":"#ff2020","strokeDash":[3,2],"strokeWidth":1},
   "encoding":{"y":{"field":"v","type":"quantitative","scale":{"domain":[4779.5,6652],"nice":false,"zero":false}}}},
  {"data":{"name":"levels"},"transform":[{"filter":"datum.kind=='r'"}],"mark":{"type":"text","align":"right","baseline":"top","dy":2,"fontSize":11.5,"color":"#45a845"},
   "encoding":{"x":{"datum":214.07,"type":"quantitative","scale":{"domain":[0.43,214.3],"nice":false,"zero":false}},
    "y":{"field":"v","type":"quantitative","scale":{"domain":[4779.5,6652],"nice":false,"zero":false}},
    "text":{"field":"v","type":"quantitative","format":"d"}}},
  {"data":{"name":"levels"},"transform":[{"filter":"datum.kind=='s'"}],"mark":{"type":"text","align":"right","baseline":"top","dy":2,"fontSize":11.5,"color":"#ff3535"},
   "encoding":{"x":{"datum":214.07,"type":"quantitative","scale":{"domain":[0.43,214.3],"nice":false,"zero":false}},
    "y":{"field":"v","type":"quantitative","scale":{"domain":[4779.5,6652],"nice":false,"zero":false}},
    "text":{"field":"v","type":"quantitative","format":"d"}}},
  {"data":{"name":"candles"},"mark":{"type":"rule","color":"#000","strokeWidth":1},
   "encoding":{
    "x":{"field":"i","type":"quantitative","scale":{"domain":[0.43,214.3],"nice":false,"zero":false},
      "axis":{"orient":"bottom","values":[0.5,9.5,27.5,49.5,68.5,83.5,104.5,124.5,146.5,168.5,189.5],
        "labelExpr":"datum.value == 0.5 ? '2022' : datum.value == 9.5 ? 'February' : datum.value == 27.5 ? 'March' : datum.value == 49.5 ? 'April' : datum.value == 68.5 ? 'May' : datum.value == 83.5 ? 'Jun' : datum.value == 104.5 ? 'Jul' : datum.value == 124.5 ? 'August' : datum.value == 146.5 ? 'September' : datum.value == 168.5 ? 'October' : 'November'",
        "labelAlign":"left","labelBaseline":"top","labelPadding":-3,"labelOffset":3,"tickSize":5,"grid":false,"domain":false,"title":null,"labelOverlap":false,"labelFlush":false,"labelBound":false}},
    "y":{"field":"l","type":"quantitative","scale":{"domain":[4779.5,6652],"nice":false,"zero":false},
      "axis":{"orient":"right","values":[4800,5000,5200,5400,5600,5800,6000,6200,6400,6600],"labels":false,"grid":true,"gridDash":[1,7],"gridColor":"#333","tickSize":5,"title":null}},
    "y2":{"field":"h"}}},
  {"data":{"name":"candles"},"mark":{"type":"bar","size":4,"stroke":"#000","strokeWidth":1},
   "encoding":{"x":{"field":"i","type":"quantitative","scale":{"domain":[0.43,214.3],"nice":false,"zero":false}},
    "y":{"field":"o","type":"quantitative","scale":{"domain":[4779.5,6652],"nice":false,"zero":false}},
    "y2":{"field":"c"},
    "fill":{"condition":{"test":"datum.c >= datum.o","value":"#008000"},"value":"#ff0000"}}},
  {"data":{"name":"candles"},"mark":{"type":"line","color":"#ff3030","strokeWidth":1},
   "encoding":{"x":{"field":"i","type":"quantitative","scale":{"domain":[0.43,214.3],"nice":false,"zero":false}},
    "y":{"field":"ma5","type":"quantitative","scale":{"domain":[4779.5,6652],"nice":false,"zero":false}}}},
  {"data":{"name":"mas"},"transform":[{"filter":"datum.s=='MA1'"}],"mark":{"type":"line","color":"#2b2bff","strokeWidth":1},
   "encoding":{"x":{"field":"i","type":"quantitative","scale":{"domain":[0.43,214.3],"nice":false,"zero":false}},
    "y":{"field":"v","type":"quantitative","scale":{"domain":[4779.5,6652],"nice":false,"zero":false}}}},
  {"data":{"name":"mas"},"transform":[{"filter":"datum.s=='MA2'"}],"mark":{"type":"line","color":"#22dd22","strokeWidth":1},
   "encoding":{"x":{"field":"i","type":"quantitative","scale":{"domain":[0.43,214.3],"nice":false,"zero":false}},
    "y":{"field":"v","type":"quantitative","scale":{"domain":[4779.5,6652],"nice":false,"zero":false}}}},
  {"data":{"name":"mas"},"transform":[{"filter":"datum.s=='MA3'"}],"mark":{"type":"line","color":"#b8b8b8","strokeWidth":1},
   "encoding":{"x":{"field":"i","type":"quantitative","scale":{"domain":[0.43,214.3],"nice":false,"zero":false}},
    "y":{"field":"v","type":"quantitative","scale":{"domain":[4779.5,6652],"nice":false,"zero":false}}}},
  {"data":{"name":"mas"},"transform":[{"filter":"datum.s=='MA4'"}],"mark":{"type":"line","color":"#ffc800","strokeWidth":1},
   "encoding":{"x":{"field":"i","type":"quantitative","scale":{"domain":[0.43,214.3],"nice":false,"zero":false}},
    "y":{"field":"v","type":"quantitative","scale":{"domain":[4779.5,6652],"nice":false,"zero":false}}}},
  {"data":{"name":"yticks"},"transform":[{"filter":"datum.p=='price'"}],"mark":{"type":"text","align":"right","baseline":"middle","fontSize":11.5,"color":"#000"},
   "encoding":{"x":{"datum":223.29,"type":"quantitative","scale":{"domain":[0.43,214.3],"nice":false,"zero":false}},
    "y":{"field":"t","type":"quantitative","scale":{"domain":[4779.5,6652],"nice":false,"zero":false}},
    "text":{"field":"t","type":"quantitative","format":",d"}}},
  {"data":{"name":"last"},"mark":{"type":"rect","color":"#fff"},
   "encoding":{"x":{"datum":0.6,"type":"quantitative","scale":{"domain":[0.43,214.3],"nice":false,"zero":false}},"x2":{"datum":201},
    "y":{"datum":6648,"type":"quantitative","scale":{"domain":[4779.5,6652],"nice":false,"zero":false}},"y2":{"datum":6562}}},
  {"data":{"name":"last"},"mark":{"type":"text","text":"CPIN - Daily 18/11/2022 15:01:00 Open 5750, Hi 5875, Lo 5700, Close 5850 (1.7%)","align":"left","baseline":"middle","fontSize":11.8,"color":"#000"},
   "encoding":{"x":{"datum":0.776,"type":"quantitative","scale":{"domain":[0.43,214.3],"nice":false,"zero":false}},"y":{"datum":6608,"type":"quantitative","scale":{"domain":[4779.5,6652],"nice":false,"zero":false}}}},
  {"data":{"name":"last"},"mark":{"type":"text","text":"MA(Close,5)","align":"left","baseline":"middle","fontSize":11.8,"color":"#ff2020"},
   "encoding":{"x":{"datum":77.25,"type":"quantitative","scale":{"domain":[0.43,214.3],"nice":false,"zero":false}},"y":{"datum":6608,"type":"quantitative","scale":{"domain":[4779.5,6652],"nice":false,"zero":false}}}},
  {"data":{"name":"last"},"mark":{"type":"text","text":"= 5,820.00,","align":"left","baseline":"middle","fontSize":11.8,"color":"#000"},
   "encoding":{"x":{"datum":88.78,"type":"quantitative","scale":{"domain":[0.43,214.3],"nice":false,"zero":false}},"y":{"datum":6608,"type":"quantitative","scale":{"domain":[4779.5,6652],"nice":false,"zero":false}}}},
  {"data":{"name":"last"},"mark":{"type":"text","text":"MA1(Close,20)","align":"left","baseline":"middle","fontSize":11.8,"color":"#3a3aff"},
   "encoding":{"x":{"datum":99.62,"type":"quantitative","scale":{"domain":[0.43,214.3],"nice":false,"zero":false}},"y":{"datum":6608,"type":"quantitative","scale":{"domain":[4779.5,6652],"nice":false,"zero":false}}}},
  {"data":{"name":"last"},"mark":{"type":"text","text":"= 5,753.75,","align":"left","baseline":"middle","fontSize":11.8,"color":"#000"},
   "encoding":{"x":{"datum":113.79,"type":"quantitative","scale":{"domain":[0.43,214.3],"nice":false,"zero":false}},"y":{"datum":6608,"type":"quantitative","scale":{"domain":[4779.5,6652],"nice":false,"zero":false}}}},
  {"data":{"name":"last"},"mark":{"type":"text","text":"MA2(Close,60)","align":"left","baseline":"middle","fontSize":11.8,"color":"#1ed21e"},
   "encoding":{"x":{"datum":124.62,"type":"quantitative","scale":{"domain":[0.43,214.3],"nice":false,"zero":false}},"y":{"datum":6608,"type":"quantitative","scale":{"domain":[4779.5,6652],"nice":false,"zero":false}}}},
  {"data":{"name":"last"},"mark":{"type":"text","text":"= 5,671.67,","align":"left","baseline":"middle","fontSize":11.8,"color":"#000"},
   "encoding":{"x":{"datum":138.79,"type":"quantitative","scale":{"domain":[0.43,214.3],"nice":false,"zero":false}},"y":{"datum":6608,"type":"quantitative","scale":{"domain":[4779.5,6652],"nice":false,"zero":false}}}},
  {"data":{"name":"last"},"mark":{"type":"text","text":"MA3(Close,100)","align":"left","baseline":"middle","fontSize":11.8,"color":"#b4b4b4"},
   "encoding":{"x":{"datum":149.63,"type":"quantitative","scale":{"domain":[0.43,214.3],"nice":false,"zero":false}},"y":{"datum":6608,"type":"quantitative","scale":{"domain":[4779.5,6652],"nice":false,"zero":false}}}},
  {"data":{"name":"last"},"mark":{"type":"text","text":"= 5,720.75,","align":"left","baseline":"middle","fontSize":11.8,"color":"#000"},
   "encoding":{"x":{"datum":164.95,"type":"quantitative","scale":{"domain":[0.43,214.3],"nice":false,"zero":false}},"y":{"datum":6608,"type":"quantitative","scale":{"domain":[4779.5,6652],"nice":false,"zero":false}}}},
  {"data":{"name":"last"},"mark":{"type":"text","text":"MA4(Close,200)","align":"left","baseline":"middle","fontSize":11.8,"color":"#ffc400"},
   "encoding":{"x":{"datum":175.78,"type":"quantitative","scale":{"domain":[0.43,214.3],"nice":false,"zero":false}},"y":{"datum":6608,"type":"quantitative","scale":{"domain":[4779.5,6652],"nice":false,"zero":false}}}},
  {"data":{"name":"last"},"mark":{"type":"text","text":"= 5,616.77","align":"left","baseline":"middle","fontSize":11.8,"color":"#000"},
   "encoding":{"x":{"datum":191.09,"type":"quantitative","scale":{"domain":[0.43,214.3],"nice":false,"zero":false}},"y":{"datum":6608,"type":"quantitative","scale":{"domain":[4779.5,6652],"nice":false,"zero":false}}}},
  {"data":{"name":"last"},"mark":{"type":"point","shape":"M-0.4,0L0.4,-1L0.4,1Z","filled":true,"color":"#000","opacity":1,"size":156,"yOffset":1.5},
   "encoding":{"x":{"datum":214.85,"type":"quantitative","scale":{"domain":[0.43,214.3],"nice":false,"zero":false}},"y":{"field":"c","type":"quantitative","scale":{"domain":[4779.5,6652],"nice":false,"zero":false}}}},
  {"data":{"name":"last"},"mark":{"type":"rect","color":"#000","yOffset":-4.8,"y2Offset":7.8},
   "encoding":{"x":{"datum":215.28,"type":"quantitative","scale":{"domain":[0.43,214.3],"nice":false,"zero":false}},"x2":{"datum":221.99},
    "y":{"field":"c","type":"quantitative","scale":{"domain":[4779.5,6652],"nice":false,"zero":false}},"y2":{"field":"c"}}},
  {"data":{"name":"last"},"mark":{"type":"text","align":"left","baseline":"middle","fontSize":12,"color":"#fff","yOffset":1.5},
   "encoding":{"x":{"datum":215.68,"type":"quantitative","scale":{"domain":[0.43,214.3],"nice":false,"zero":false}},
    "y":{"field":"c","type":"quantitative","scale":{"domain":[4779.5,6652],"nice":false,"zero":false}},"text":{"field":"c","type":"quantitative","format":",d"}}},
  {"data":{"name":"last"},"mark":{"type":"rect","color":"#ff0000","yOffset":2.7,"y2Offset":15.3},
   "encoding":{"x":{"datum":215.28,"type":"quantitative","scale":{"domain":[0.43,214.3],"nice":false,"zero":false}},"x2":{"datum":221.99},
    "y":{"field":"ma5","type":"quantitative","scale":{"domain":[4779.5,6652],"nice":false,"zero":false}},"y2":{"field":"ma5"}}},
  {"data":{"name":"last"},"mark":{"type":"text","align":"left","baseline":"middle","fontSize":12,"color":"#000","yOffset":9},
   "encoding":{"x":{"datum":215.68,"type":"quantitative","scale":{"domain":[0.43,214.3],"nice":false,"zero":false}},
    "y":{"field":"ma5","type":"quantitative","scale":{"domain":[4779.5,6652],"nice":false,"zero":false}},"text":{"field":"ma5","type":"quantitative","format":",d"}}},
  {"data":{"name":"last"},"mark":{"type":"rect","color":"#0000ff","yOffset":4.6,"y2Offset":17.2},
   "encoding":{"x":{"datum":215.28,"type":"quantitative","scale":{"domain":[0.43,214.3],"nice":false,"zero":false}},"x2":{"datum":225.1},
    "y":{"field":"ma20","type":"quantitative","scale":{"domain":[4779.5,6652],"nice":false,"zero":false}},"y2":{"field":"ma20"}}},
  {"data":{"name":"last"},"mark":{"type":"text","align":"left","baseline":"middle","fontSize":12,"color":"#fff","yOffset":10.9},
   "encoding":{"x":{"datum":215.68,"type":"quantitative","scale":{"domain":[0.43,214.3],"nice":false,"zero":false}},
    "y":{"field":"ma20","type":"quantitative","scale":{"domain":[4779.5,6652],"nice":false,"zero":false}},"text":{"field":"ma20","type":"quantitative","format":",.2f"}}},
  {"data":{"name":"last"},"mark":{"type":"rect","color":"#c0c0c0","yOffset":12.2,"y2Offset":24.8},
   "encoding":{"x":{"datum":215.28,"type":"quantitative","scale":{"domain":[0.43,214.3],"nice":false,"zero":false}},"x2":{"datum":225.1},
    "y":{"field":"ma100","type":"quantitative","scale":{"domain":[4779.5,6652],"nice":false,"zero":false}},"y2":{"field":"ma100"}}},
  {"data":{"name":"last"},"mark":{"type":"text","align":"left","baseline":"middle","fontSize":12,"color":"#000","yOffset":18.5},
   "encoding":{"x":{"datum":215.68,"type":"quantitative","scale":{"domain":[0.43,214.3],"nice":false,"zero":false}},
    "y":{"field":"ma100","type":"quantitative","scale":{"domain":[4779.5,6652],"nice":false,"zero":false}},"text":{"field":"ma100","type":"quantitative","format":",.2f"}}},
  {"data":{"name":"last"},"mark":{"type":"rect","color":"#00ff00","yOffset":17.1,"y2Offset":29.7},
   "encoding":{"x":{"datum":215.28,"type":"quantitative","scale":{"domain":[0.43,214.3],"nice":false,"zero":false}},"x2":{"datum":225.1},
    "y":{"field":"ma60","type":"quantitative","scale":{"domain":[4779.5,6652],"nice":false,"zero":false}},"y2":{"field":"ma60"}}},
  {"data":{"name":"last"},"mark":{"type":"text","align":"left","baseline":"middle","fontSize":12,"color":"#000","yOffset":23.4},
   "encoding":{"x":{"datum":215.68,"type":"quantitative","scale":{"domain":[0.43,214.3],"nice":false,"zero":false}},
    "y":{"field":"ma60","type":"quantitative","scale":{"domain":[4779.5,6652],"nice":false,"zero":false}},"text":{"field":"ma60","type":"quantitative","format":",.2f"}}},
  {"data":{"name":"last"},"mark":{"type":"rect","color":"#ffcc00","yOffset":20.4,"y2Offset":33},
   "encoding":{"x":{"datum":215.28,"type":"quantitative","scale":{"domain":[0.43,214.3],"nice":false,"zero":false}},"x2":{"datum":225.1},
    "y":{"field":"ma200","type":"quantitative","scale":{"domain":[4779.5,6652],"nice":false,"zero":false}},"y2":{"field":"ma200"}}},
  {"data":{"name":"last"},"mark":{"type":"text","align":"left","baseline":"middle","fontSize":12,"color":"#000","yOffset":26.7},
   "encoding":{"x":{"datum":215.68,"type":"quantitative","scale":{"domain":[0.43,214.3],"nice":false,"zero":false}},
    "y":{"field":"ma200","type":"quantitative","scale":{"domain":[4779.5,6652],"nice":false,"zero":false}},"text":{"field":"ma200","type":"quantitative","format":",.2f"}}}
 ]
},
{
 "spacing": 0,
 "bounds": "flush",
 "vconcat": [
 {
  "width": 1237, "height": 105,
  "resolve": {"scale": {"y": "independent"}, "axis": {"y": "independent"}},
  "layer": [
   {"data":{"name":"candles"},"mark":{"type":"bar","size":2.5,"color":"#8b0000"},
    "encoding":{"x":{"field":"i","type":"quantitative","scale":{"domain":[0.43,214.3],"nice":false,"zero":false},"axis":null},
     "y":{"field":"v","type":"quantitative","scale":{"domain":[0,800000],"nice":false,"zero":false},"axis":null}}},
   {"layer": [
    {"data":{"name":"candles"},"mark":{"type":"rule","color":"#ff0000","strokeWidth":1},
     "encoding":{"x":{"field":"i","type":"quantitative","scale":{"domain":[0.43,214.3],"nice":false,"zero":false},"axis":null},
      "y":{"field":"hist","type":"quantitative","scale":{"domain":[-235.5,245.5],"nice":false,"zero":false},
        "axis":{"orient":"right","values":[-180,-120,-60,0,60,120,180],"labels":false,"grid":true,"gridDash":[1,7],"gridColor":"#333","tickSize":5,"title":null}},
      "y2":{"datum":0}}},
    {"data":{"name":"last"},"mark":{"type":"rule","color":"#000","strokeWidth":1},
     "encoding":{"x":{"datum":0.43,"type":"quantitative","scale":{"domain":[0.43,214.3],"nice":false,"zero":false},"axis":null},
      "y":{"datum":310,"type":"quantitative","scale":{"domain":[-235.5,245.5],"nice":false,"zero":false}},"y2":{"datum":245.5}}},
    {"data":{"name":"last"},"mark":{"type":"rule","color":"#000","strokeWidth":1},
     "encoding":{"x":{"datum":214.3,"type":"quantitative","scale":{"domain":[0.43,214.3],"nice":false,"zero":false},"axis":null},
      "y":{"datum":310,"type":"quantitative","scale":{"domain":[-235.5,245.5],"nice":false,"zero":false}},"y2":{"datum":245.5}}},
    {"data":{"name":"macd"},"transform":[{"filter":"datum.s=='macd'"}],"mark":{"type":"line","color":"#ff0000","strokeWidth":1},
     "encoding":{"x":{"field":"i","type":"quantitative","scale":{"domain":[0.43,214.3],"nice":false,"zero":false},"axis":null},
      "y":{"field":"v","type":"quantitative","scale":{"domain":[-235.5,245.5],"nice":false,"zero":false}}}},
    {"data":{"name":"macd"},"transform":[{"filter":"datum.s=='sig'"}],"mark":{"type":"line","color":"#0000ff","strokeWidth":1},
     "encoding":{"x":{"field":"i","type":"quantitative","scale":{"domain":[0.43,214.3],"nice":false,"zero":false},"axis":null},
      "y":{"field":"v","type":"quantitative","scale":{"domain":[-235.5,245.5],"nice":false,"zero":false}}}},
    {"data":{"name":"yticks"},"transform":[{"filter":"datum.p=='macd'"}],"mark":{"type":"text","align":"right","baseline":"middle","fontSize":11.5,"color":"#000"},
     "encoding":{"x":{"datum":223.29,"type":"quantitative","scale":{"domain":[0.43,214.3],"nice":false,"zero":false},"axis":null},
      "y":{"field":"t","type":"quantitative","scale":{"domain":[-235.5,245.5],"nice":false,"zero":false}},
      "text":{"field":"t","type":"quantitative","format":".1f"}}},
    {"data":{"name":"last"},"mark":{"type":"text","text":"CPIN -","align":"left","baseline":"middle","fontSize":11.8,"color":"#000"},
     "encoding":{"x":{"datum":0.776,"type":"quantitative","scale":{"domain":[0.43,214.3],"nice":false,"zero":false},"axis":null},"y":{"datum":209,"type":"quantitative","scale":{"domain":[-235.5,245.5],"nice":false,"zero":false}}}},
    {"data":{"name":"last"},"mark":{"type":"text","text":"MACD(12,26)","align":"left","baseline":"middle","fontSize":11.8,"color":"#ff2020"},
     "encoding":{"x":{"datum":7.47,"type":"quantitative","scale":{"domain":[0.43,214.3],"nice":false,"zero":false},"axis":null},"y":{"datum":209,"type":"quantitative","scale":{"domain":[-235.5,245.5],"nice":false,"zero":false}}}},
    {"data":{"name":"last"},"mark":{"type":"text","text":"= 61.20,","align":"left","baseline":"middle","fontSize":11.8,"color":"#000"},
     "encoding":{"x":{"datum":20.5,"type":"quantitative","scale":{"domain":[0.43,214.3],"nice":false,"zero":false},"axis":null},"y":{"datum":209,"type":"quantitative","scale":{"domain":[-235.5,245.5],"nice":false,"zero":false}}}},
    {"data":{"name":"last"},"mark":{"type":"text","text":"Signal(12,26,9)","align":"left","baseline":"middle","fontSize":11.8,"color":"#3a3aff"},
     "encoding":{"x":{"datum":28.51,"type":"quantitative","scale":{"domain":[0.43,214.3],"nice":false,"zero":false},"axis":null},"y":{"datum":209,"type":"quantitative","scale":{"domain":[-235.5,245.5],"nice":false,"zero":false}}}},
    {"data":{"name":"last"},"mark":{"type":"text","text":"= 59.21,","align":"left","baseline":"middle","fontSize":11.8,"color":"#000"},
     "encoding":{"x":{"datum":43.29,"type":"quantitative","scale":{"domain":[0.43,214.3],"nice":false,"zero":false},"axis":null},"y":{"datum":209,"type":"quantitative","scale":{"domain":[-235.5,245.5],"nice":false,"zero":false}}}},
    {"data":{"name":"last"},"mark":{"type":"text","text":"Volume","align":"left","baseline":"middle","fontSize":11.8,"color":"#8b0000"},
     "encoding":{"x":{"datum":51.29,"type":"quantitative","scale":{"domain":[0.43,214.3],"nice":false,"zero":false},"axis":null},"y":{"datum":209,"type":"quantitative","scale":{"domain":[-235.5,245.5],"nice":false,"zero":false}}}},
    {"data":{"name":"last"},"mark":{"type":"text","text":"= 41,385.00","align":"left","baseline":"middle","fontSize":11.8,"color":"#000"},
     "encoding":{"x":{"datum":58.78,"type":"quantitative","scale":{"domain":[0.43,214.3],"nice":false,"zero":false},"axis":null},"y":{"datum":209,"type":"quantitative","scale":{"domain":[-235.5,245.5],"nice":false,"zero":false}}}},
    {"data":{"name":"last"},"mark":{"type":"rect","color":"#8b0000","yOffset":-16.9,"y2Offset":-6.9},
     "encoding":{"x":{"datum":215.33,"type":"quantitative","scale":{"domain":[0.43,214.3],"nice":false,"zero":false},"axis":null},"x2":{"datum":223.11},
      "y":{"field":"macd","type":"quantitative","scale":{"domain":[-235.5,245.5],"nice":false,"zero":false}},"y2":{"field":"macd"}}},
    {"data":{"name":"last"},"mark":{"type":"text","align":"left","baseline":"middle","fontSize":12,"color":"#fff","yOffset":-11.9},
     "encoding":{"x":{"datum":215.68,"type":"quantitative","scale":{"domain":[0.43,214.3],"nice":false,"zero":false},"axis":null},
      "y":{"field":"macd","type":"quantitative","scale":{"domain":[-235.5,245.5],"nice":false,"zero":false}},"text":{"field":"vol","type":"quantitative","format":",d"}}},
    {"data":{"name":"last"},"mark":{"type":"point","shape":"M-0.5,0L0.5,-1L0.5,1Z","filled":true,"color":"#ff0000","opacity":1,"size":100,"yOffset":1.5},
     "encoding":{"x":{"datum":214.85,"type":"quantitative","scale":{"domain":[0.43,214.3],"nice":false,"zero":false},"axis":null},"y":{"field":"macd","type":"quantitative","scale":{"domain":[-235.5,245.5],"nice":false,"zero":false}}}},
    {"data":{"name":"last"},"mark":{"type":"rect","color":"#ff0000","yOffset":-3.5,"y2Offset":6.5},
     "encoding":{"x":{"datum":215.28,"type":"quantitative","scale":{"domain":[0.43,214.3],"nice":false,"zero":false},"axis":null},"x2":{"datum":223.58},
      "y":{"field":"macd","type":"quantitative","scale":{"domain":[-235.5,245.5],"nice":false,"zero":false}},"y2":{"field":"macd"}}},
    {"data":{"name":"last"},"mark":{"type":"text","align":"left","baseline":"middle","fontSize":12,"color":"#000","yOffset":1.5},
     "encoding":{"x":{"datum":215.68,"type":"quantitative","scale":{"domain":[0.43,214.3],"nice":false,"zero":false},"axis":null},
      "y":{"field":"macd","type":"quantitative","scale":{"domain":[-235.5,245.5],"nice":false,"zero":false}},"text":{"field":"macd","type":"quantitative","format":".4f"}}},
    {"data":{"name":"last"},"mark":{"type":"rect","color":"#0000ff","yOffset":9,"y2Offset":19},
     "encoding":{"x":{"datum":215.33,"type":"quantitative","scale":{"domain":[0.43,214.3],"nice":false,"zero":false},"axis":null},"x2":{"datum":223.58},
      "y":{"field":"sig","type":"quantitative","scale":{"domain":[-235.5,245.5],"nice":false,"zero":false}},"y2":{"field":"sig"}}},
    {"data":{"name":"last"},"mark":{"type":"text","align":"left","baseline":"middle","fontSize":12,"color":"#fff","yOffset":14},
     "encoding":{"x":{"datum":215.68,"type":"quantitative","scale":{"domain":[0.43,214.3],"nice":false,"zero":false},"axis":null},
      "y":{"field":"sig","type":"quantitative","scale":{"domain":[-235.5,245.5],"nice":false,"zero":false}},"text":{"field":"sig","type":"quantitative","format":".4f"}}}
   ]}
  ]
 },
 {
  "width": 1237, "height": 99,
  "layer": [
   {"data":{"name":"stoch"},"transform":[{"filter":"datum.s=='k'"}],"mark":{"type":"line","color":"#ff2020","strokeWidth":1},
    "encoding":{"x":{"field":"i","type":"quantitative","scale":{"domain":[0.43,214.3],"nice":false,"zero":false},
       "axis":{"orient":"bottom","labels":false,"ticks":false,"domain":false,"grid":false,"title":"Created with AmiBroker - advanced charting and technical analysis software. http://www.amibroker.com","titleFontSize":9,"titleFontWeight":"normal","titleColor":"#000","titleAnchor":"start","titleAlign":"left","titleBaseline":"middle","titleX":3,"titleY":7}},
     "y":{"field":"v","type":"quantitative","scale":{"domain":[-5.8,107.3],"nice":false,"zero":false},
       "axis":{"orient":"right","values":[30,70],"labels":false,"grid":true,"gridDash":[1,7],"gridColor":"#333","tickSize":5,"title":null}}}},
   {"data":{"name":"stoch"},"transform":[{"filter":"datum.s=='d'"}],"mark":{"type":"line","color":"#2b2bff","strokeWidth":1},
    "encoding":{"x":{"field":"i","type":"quantitative","scale":{"domain":[0.43,214.3],"nice":false,"zero":false}},
     "y":{"field":"v","type":"quantitative","scale":{"domain":[-5.8,107.3],"nice":false,"zero":false}}}},
   {"data":{"name":"yticks"},"transform":[{"filter":"datum.p=='stoch'"}],"mark":{"type":"text","align":"right","baseline":"middle","fontSize":11.5,"color":"#000"},
    "encoding":{"x":{"datum":223.29,"type":"quantitative","scale":{"domain":[0.43,214.3],"nice":false,"zero":false}},
     "y":{"field":"t","type":"quantitative","scale":{"domain":[-5.8,107.3],"nice":false,"zero":false}},
     "text":{"field":"t","type":"quantitative","format":".1f"}}},
   {"data":{"name":"last"},"mark":{"type":"text","text":"CPIN -","align":"left","baseline":"middle","fontSize":11.8,"color":"#000"},
    "encoding":{"x":{"datum":0.776,"type":"quantitative","scale":{"domain":[0.43,214.3],"nice":false,"zero":false}},"y":{"datum":99.3,"type":"quantitative","scale":{"domain":[-5.8,107.3],"nice":false,"zero":false}}}},
   {"data":{"name":"last"},"mark":{"type":"text","text":"%K(15,3)","align":"left","baseline":"middle","fontSize":11.8,"color":"#ff2020"},
    "encoding":{"x":{"datum":7.47,"type":"quantitative","scale":{"domain":[0.43,214.3],"nice":false,"zero":false}},"y":{"datum":99.3,"type":"quantitative","scale":{"domain":[-5.8,107.3],"nice":false,"zero":false}}}},
   {"data":{"name":"last"},"mark":{"type":"text","text":"= 75.00,","align":"left","baseline":"middle","fontSize":11.8,"color":"#000"},
    "encoding":{"x":{"datum":16.54,"type":"quantitative","scale":{"domain":[0.43,214.3],"nice":false,"zero":false}},"y":{"datum":99.3,"type":"quantitative","scale":{"domain":[-5.8,107.3],"nice":false,"zero":false}}}},
   {"data":{"name":"last"},"mark":{"type":"text","text":"%D(15,3,3)","align":"left","baseline":"middle","fontSize":11.8,"color":"#3a3aff"},
    "encoding":{"x":{"datum":24.55,"type":"quantitative","scale":{"domain":[0.43,214.3],"nice":false,"zero":false}},"y":{"datum":99.3,"type":"quantitative","scale":{"domain":[-5.8,107.3],"nice":false,"zero":false}}}},
   {"data":{"name":"last"},"mark":{"type":"text","text":"= 75.69","align":"left","baseline":"middle","fontSize":11.8,"color":"#000"},
    "encoding":{"x":{"datum":35.44,"type":"quantitative","scale":{"domain":[0.43,214.3],"nice":false,"zero":false}},"y":{"datum":99.3,"type":"quantitative","scale":{"domain":[-5.8,107.3],"nice":false,"zero":false}}}},
   {"data":{"name":"last"},"mark":{"type":"rect","color":"#0000ff","yOffset":-16.5,"y2Offset":-5.5},
    "encoding":{"x":{"datum":215.33,"type":"quantitative","scale":{"domain":[0.43,214.3],"nice":false,"zero":false}},"x2":{"datum":223.58},
     "y":{"field":"d","type":"quantitative","scale":{"domain":[-5.8,107.3],"nice":false,"zero":false}},"y2":{"field":"d"}}},
   {"data":{"name":"last"},"mark":{"type":"text","align":"left","baseline":"middle","fontSize":12,"color":"#fff","yOffset":-11.2},
    "encoding":{"x":{"datum":215.68,"type":"quantitative","scale":{"domain":[0.43,214.3],"nice":false,"zero":false}},
     "y":{"field":"d","type":"quantitative","scale":{"domain":[-5.8,107.3],"nice":false,"zero":false}},"text":{"field":"d","type":"quantitative","format":".4f"}}},
   {"data":{"name":"last"},"mark":{"type":"point","shape":"M-0.5,0L0.5,-1L0.5,1Z","filled":true,"color":"#ff0000","opacity":1,"size":110,"yOffset":-1.1},
    "encoding":{"x":{"datum":214.85,"type":"quantitative","scale":{"domain":[0.43,214.3],"nice":false,"zero":false}},"y":{"field":"k","type":"quantitative","scale":{"domain":[-5.8,107.3],"nice":false,"zero":false}}}},
   {"data":{"name":"last"},"mark":{"type":"rect","color":"#ff0000","yOffset":-6.6,"y2Offset":4.4},
    "encoding":{"x":{"datum":215.28,"type":"quantitative","scale":{"domain":[0.43,214.3],"nice":false,"zero":false}},"x2":{"datum":219.14},
     "y":{"field":"k","type":"quantitative","scale":{"domain":[-5.8,107.3],"nice":false,"zero":false}},"y2":{"field":"k"}}},
   {"data":{"name":"last"},"mark":{"type":"text","align":"left","baseline":"middle","fontSize":12,"color":"#000","yOffset":-1.1},
    "encoding":{"x":{"datum":215.68,"type":"quantitative","scale":{"domain":[0.43,214.3],"nice":false,"zero":false}},
     "y":{"field":"k","type":"quantitative","scale":{"domain":[-5.8,107.3],"nice":false,"zero":false}},"text":{"field":"k","type":"quantitative","format":"d"}}}
  ]
 }
 ]
}
]
}
